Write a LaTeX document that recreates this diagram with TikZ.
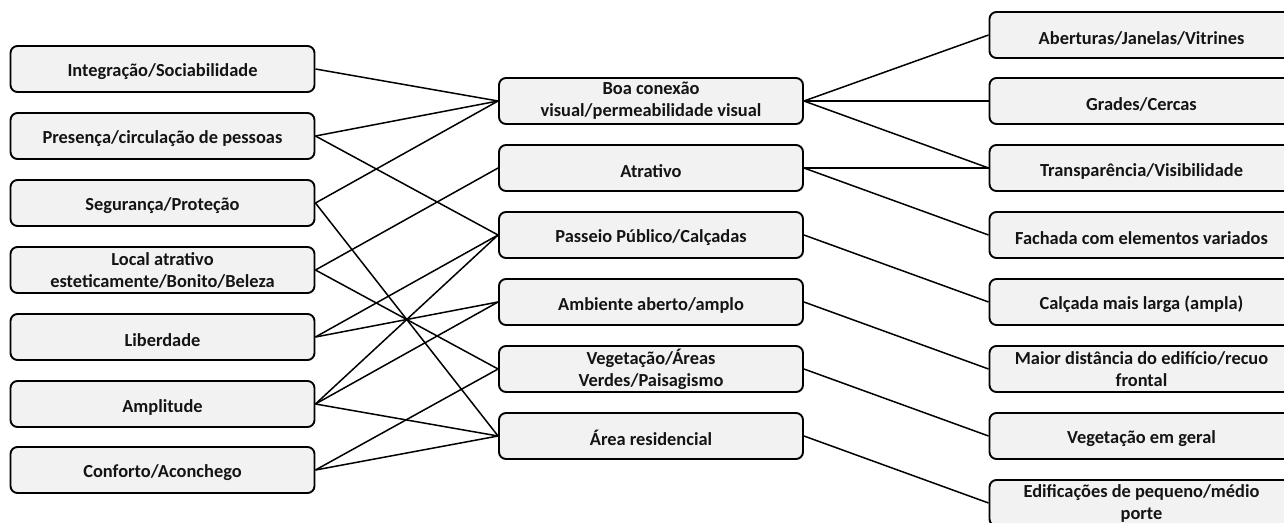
\documentclass[tikz,border=0pt]{standalone}
\usepackage{fontspec}
\setmainfont{Carlito}
\definecolor{boxfill}{HTML}{F2F2F2}
\definecolor{txt}{HTML}{141414}
\begin{document}
\begin{tikzpicture}[x=1pt,y=-1pt,
  box/.style={draw=black, line width=1.9pt, fill=boxfill, rounded corners=7pt,
    minimum width=304pt, minimum height=46pt, align=center, inner sep=1pt,
    font=\fontsize{18.4}{22}\selectfont\bfseries, text=txt,
    execute at begin node={\rule{0pt}{19pt}}},
  link/.style={draw=black, line width=1.5pt}]
\useasboundingbox (0,0) rectangle (1284,522);
\clip (0,0) rectangle (1284,522);
% left column
\node[box] (l1) at (162.5,69) {Integração/Sociabilidade};
\node[box] (l2) at (162.5,136) {Presença/circulação de pessoas};
\node[box] (l3) at (162.5,203) {Segurança/Proteção};
\node[box] (l4) at (162.5,270) {Local atrativo\\esteticamente/Bonito/Beleza};
\node[box] (l5) at (162.5,337) {Liberdade};
\node[box] (l6) at (162.5,404) {Amplitude};
\node[box] (l7) at (162.5,470) {Conforto/Aconchego};
% middle column
\node[box] (m1) at (651,101) {Boa conexão\\visual/permeabilidade visual};
\node[box] (m2) at (651,168) {Atrativo};
\node[box] (m3) at (651,235) {Passeio Público/Calçadas};
\node[box] (m4) at (651,302) {Ambiente aberto/amplo};
\node[box] (m5) at (651,369) {Vegetação/Áreas\\Verdes/Paisagismo};
\node[box] (m6) at (651,436) {Área residencial};
% right column
\node[box] (r1) at (1141.5,35) {Aberturas/Janelas/Vitrines};
\node[box] (r2) at (1141.5,101) {Grades/Cercas};
\node[box] (r3) at (1141.5,168) {Transparência/Visibilidade};
\node[box] (r4) at (1141.5,235) {Fachada com elementos variados};
\node[box] (r5) at (1141.5,302) {Calçada mais larga (ampla)};
\node[box] (r6) at (1141.5,369) {Maior distância do edifício/recuo\\frontal};
\node[box] (r7) at (1141.5,436) {Vegetação em geral};
\node[box] (r8) at (1141.5,503) {Edificações de pequeno/médio\\porte};
% left -> middle
\draw[link] (l1.east) -- (m1.west);
\draw[link] (l2.east) -- (m1.west);
\draw[link] (l2.east) -- (m3.west);
\draw[link] (l3.east) -- (m1.west);
\draw[link] (l3.east) -- (m6.west);
\draw[link] (l4.east) -- (m2.west);
\draw[link] (l4.east) -- (m5.west);
\draw[link] (l5.east) -- (m3.west);
\draw[link] (l5.east) -- (m4.west);
\draw[link] (l6.east) -- (m3.west);
\draw[link] (l6.east) -- (m4.west);
\draw[link] (l6.east) -- (m6.west);
\draw[link] (l7.east) -- (m5.west);
\draw[link] (l7.east) -- (m6.west);
% middle -> right
\draw[link] (m1.east) -- (r1.west);
\draw[link] (m1.east) -- (r2.west);
\draw[link] (m1.east) -- (r3.west);
\draw[link] (m2.east) -- (r3.west);
\draw[link] (m2.east) -- (r4.west);
\draw[link] (m3.east) -- (r5.west);
\draw[link] (m4.east) -- (r6.west);
\draw[link] (m5.east) -- (r7.west);
\draw[link] (m6.east) -- (r8.west);
\end{tikzpicture}
\end{document}
